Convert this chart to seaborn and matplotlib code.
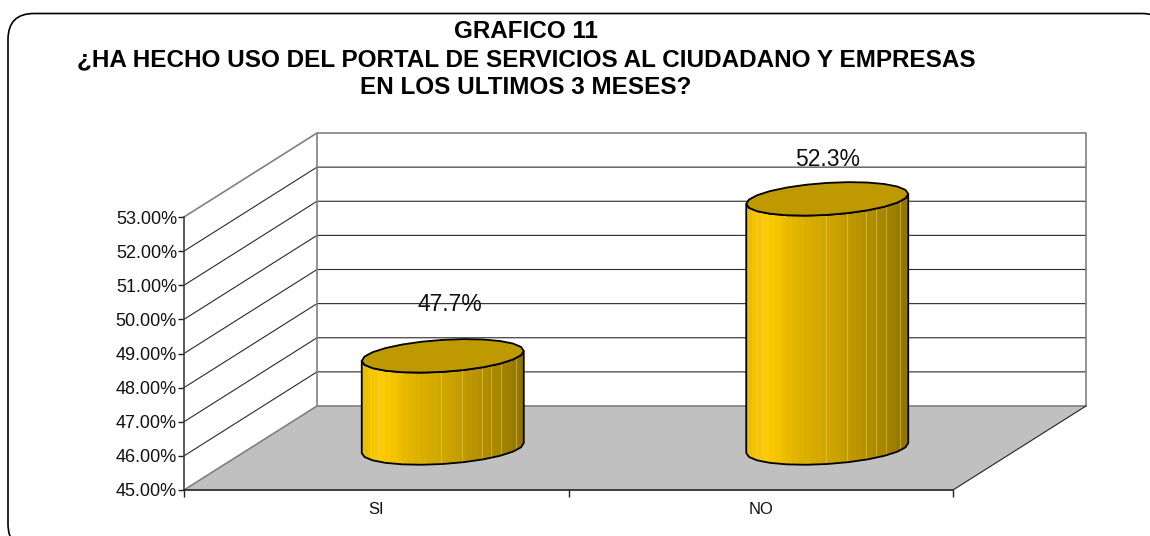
import numpy as np
import pandas as pd
import matplotlib
matplotlib.use('Agg')
import matplotlib.pyplot as plt
import seaborn as sns
from matplotlib.patches import FancyBboxPatch, Polygon

# chart data
categories = ['SI', 'NO']
values = [47.7, 52.3]
value_labels = ['47.7%', '52.3%']
y_ticks = [45, 46, 47, 48, 49, 50, 51, 52, 53]
title = 'GRAFICO 11\n¿HA HECHO USO DEL PORTAL DE SERVICIOS AL CIUDADANO Y EMPRESAS\nEN LOS ULTIMOS 3 MESES?'

W, H = 1150, 536

sns.set_theme(style='white')
plt.rcParams['font.family'] = ['Liberation Sans', 'DejaVu Sans']

######################################
############ AXES SETUP ##############
######################################

fig = plt.figure(figsize=(W / 100, H / 100), dpi=100, facecolor='white')

# outer frame runs past the right and bottom edge of the picture
frame = FancyBboxPatch((8, H - 550), 1160, 536.5, boxstyle='round,pad=0,rounding_size=26',
                       transform=None, fc='white', ec='black', lw=1.2, clip_on=False, zorder=-1)
fig.add_artist(frame)

ax = fig.add_axes([184 / W, (H - 490) / H, 769 / W, 273 / H])
ax.patch.set_visible(False)

df = pd.DataFrame({'answer': categories, 'pct': values})
sns.barplot(data=df, x='answer', y='pct', width=162 / 384.5, color='#FFCC00', ax=ax, zorder=3)
bars = list(ax.patches)
ax.set_xlim(-0.5, 1.5)
ax.set_ylim(45, 53)

# size of one pixel in data units, and depth of the 3d box
px = 2 / 769
py = 8 / 273
dx, dy = 133 * px, 84 * py

######################################
############ WALLS, FLOOR ############
######################################

wall_col = '#808080'
floor = Polygon([(-0.5, 45), (1.5, 45), (1.5 + dx, 45 + dy), (-0.5 + dx, 45 + dy)],
                fc='#C0C0C0', ec='none', clip_on=False, zorder=1)
ax.add_patch(floor)

for t in y_ticks[1:-1]:
    ax.plot([-0.5, -0.5 + dx, 1.5 + dx], [t, t + dy, t + dy], color='#2a2a2a', lw=0.8,
            clip_on=False, zorder=2, solid_joinstyle='miter')

ax.plot([-0.5, -0.5 + dx, 1.5 + dx, 1.5 + dx], [53, 53 + dy, 53 + dy, 45 + dy],
        color=wall_col, lw=1.2, clip_on=False, zorder=2)
ax.plot([-0.5, -0.5 + dx, -0.5 + dx], [45, 45 + dy, 53 + dy], color=wall_col, lw=1.2, clip_on=False, zorder=2)
ax.plot([-0.5 + dx, 1.5 + dx], [45 + dy, 45 + dy], color=wall_col, lw=1.2, clip_on=False, zorder=2)
ax.plot([1.5, 1.5 + dx], [45, 45 + dy], color='#222222', lw=0.8, clip_on=False, zorder=2)

######################################
############ CYLINDERS ###############
######################################

stops_x = [0, 0.05, 0.13, 0.3, 0.55, 0.78, 0.92, 1]
stops_r = [232, 245, 255, 226, 202, 176, 156, 145]
stops_g = [186, 196, 204, 181, 162, 141, 125, 116]
n_strip = 28
pos = (np.arange(n_strip) + 0.5) / n_strip
strip = np.stack([np.interp(pos, stops_x, stops_r),
                  np.interp(pos, stops_x, stops_g),
                  np.zeros(n_strip)], axis=1)[None, :, :] / 255


def ellipse(cx, cy, t):
    # tilted ellipse, px/py keep it in data units
    return (cx + 81 * px * np.cos(t),
            cy + (16 * np.sin(t) + 5 * np.cos(t)) * py)


for bar in bars:
    cx = bar.get_x() + bar.get_width() / 2 + dx / 2
    top = bar.get_height() + dy / 2
    base = 45 + dy / 2
    # few points on purpose, the original outline is faceted
    t_low = np.linspace(np.pi, 2 * np.pi, 13)

    # body outline: lower half of the bottom and lower half of the top
    bx, by = ellipse(cx, base, t_low)
    tx, ty = ellipse(cx, top, t_low)
    body_xy = np.column_stack([np.r_[bx, tx[::-1]], np.r_[by, ty[::-1]]])

    body = Polygon(body_xy, closed=True, fc='none', ec='black', lw=1.3, clip_on=False, zorder=5)
    ax.add_patch(body)

    im = ax.imshow(strip, extent=(cx - 81 * px, cx + 81 * px, base - 30 * py, top + 30 * py),
                   aspect='auto', interpolation='nearest', zorder=4)
    im.set_clip_box(fig.bbox)
    im.set_clip_path(body)

    # faint lighter seams between the facets
    for s in [0.06, 0.1, 0.49, 0.62, 0.74, 0.8, 0.86, 0.95]:
        xs = cx + (s - 0.5) * 162 * px
        line, = ax.plot([xs, xs], [base - 30 * py, top + 30 * py], color='#F2D870', lw=0.6,
                        alpha=0.55, zorder=4.5)
        line.set_clip_box(fig.bbox)
        line.set_clip_path(body)

    # top cap
    t_all = np.linspace(0, 2 * np.pi, 25)
    cap_x, cap_y = ellipse(cx, top, t_all)
    ax.add_patch(Polygon(np.column_stack([cap_x, cap_y]), closed=True, fc='#BF9900', ec='black',
                         lw=1.3, clip_on=False, zorder=6))
    bar.set_visible(False)

ax.set_xlim(-0.5, 1.5)
ax.set_ylim(45, 53)

######################################
############ AXIS, LABELS ############
######################################

sns.despine(ax=ax, top=True, right=True)
ax.spines['left'].set_color('#404040')
ax.spines['left'].set_linewidth(1.2)
ax.spines['bottom'].set_color('#202020')
ax.spines['bottom'].set_linewidth(1.2)

ax.set_yticks(y_ticks)
ax.set_yticklabels(['%.2f%%' % t for t in y_ticks], fontsize=13, color='#111111')
ax.tick_params(axis='y', left=True, length=4, width=1, color='#202020', pad=1)

ax.set_xticks([0, 1])
ax.set_xticklabels(categories, fontsize=12, color='#111111')
ax.set_xticks([-0.5, 0.5, 1.5], minor=True)
ax.tick_params(axis='x', which='major', bottom=False, pad=3)
ax.tick_params(axis='x', which='minor', bottom=True, length=5, width=1, color='#202020')
ax.set_xlabel('')
ax.set_ylabel('')

# value labels sit on the back wall, offsets in pixels from the bar top
label_off = [(7, 93), (0, 81)]
for i, v in enumerate(values):
    ax.annotate(value_labels[i], (i + dx / 2, v), xytext=(label_off[i][0] * 0.72, label_off[i][1] * 0.72),
                textcoords='offset points', ha='center', va='center', fontsize=16.5,
                color='#111111', zorder=7, annotation_clip=False)

fig.text(526 / W, 1 - 20 / H, title, ha='center', va='top', fontsize=17.5, fontweight='bold',
         color='black', linespacing=1.27)

plt.savefig('out.png', dpi=100)
plt.close()
